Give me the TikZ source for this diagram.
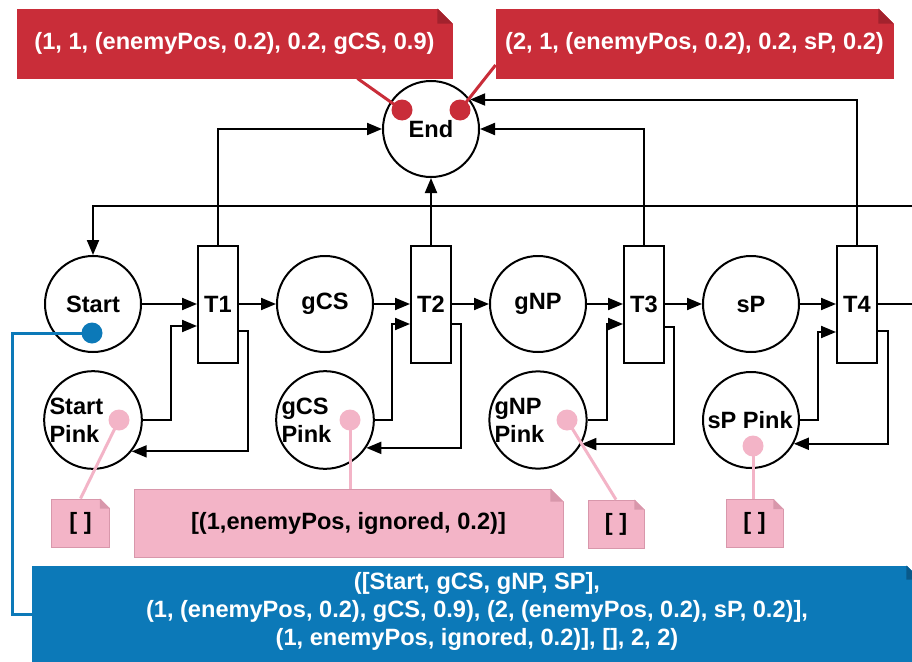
\documentclass[tikz,border=0pt]{standalone}
\usepackage{fontspec}
\setmainfont{Liberation Sans}
\usetikzlibrary{arrows.meta,positioning}
\definecolor{redc}{HTML}{C92D39}
\definecolor{redd}{HTML}{A2222D}
\definecolor{pinkc}{HTML}{F3B4C7}
\definecolor{pinkd}{HTML}{D897AB}
\definecolor{bluec}{HTML}{0C79B8}
\definecolor{blued}{HTML}{09598A}
\newcommand{\nodefont}{\fontsize{23.6}{28}\selectfont\bfseries}
% folded corner of a note
\newcommand{\dogear}[3]{%
  \fill[white] ([xshift=-#3pt,yshift=0.6pt]#1.north east) -- ([xshift=0.6pt,yshift=0.6pt]#1.north east) -- ([xshift=0.6pt,yshift=-#3pt]#1.north east) -- cycle;
  \fill[#2] ([xshift=-#3pt]#1.north east) -- ([xshift=-#3pt,yshift=-#3pt]#1.north east) -- ([yshift=-#3pt]#1.north east) -- cycle;}
\tikzset{
  plc/.style={draw, circle, line width=2pt, minimum size=96pt, inner sep=0pt, font=\nodefont},
  pplc/.style={plc, text width=87pt, align=flush left},
  trn/.style={draw, rectangle, line width=2pt, minimum width=40pt, minimum height=117pt, inner sep=0pt, font=\nodefont},
  arr/.style={-{Triangle[length=15pt,width=12pt]}, line width=2pt},
  nte/.style={rectangle, inner sep=0pt, line width=0.8pt, font=\nodefont},
  dot/.style={circle, inner sep=0pt, minimum size=21pt},
  tie/.style={line width=3pt},
}
\begin{document}
\begin{tikzpicture}[x=1pt,y=-1pt]
  \useasboundingbox (0,0) rectangle (912,661);
  \clip (0,0) rectangle (912,661);
  % places
  \node[plc] (start) at (93,304) {Start};
  \node[plc] (gcs) at (325,304) {gCS};
  \node[plc] (gnp) at (538,304) {gNP};
  \node[plc] (sp) at (751,304) {sP};
  \node[plc] (end) at (431,129) {End};
  \node[pplc] (startp) at (93,420) {Start\\Pink};
  \node[pplc] (gcsp) at (325,420) {gCS\\Pink};
  \node[pplc] (gnpp) at (538,420) {gNP\\Pink};
  \node[pplc] (spp) at (751,420) {sP Pink};
  % transitions
  \foreach \n/\x in {1/218,2/431,3/644,4/857}
    \node[trn] (t\n) at (\x,304) {T\n};
  % main flow
  \draw[arr] (start) -- (t1);
  \draw[arr] (t1) -- (gcs);
  \draw[arr] (gcs) -- (t2);
  \draw[arr] (t2) -- (gnp);
  \draw[arr] (gnp) -- (t3);
  \draw[arr] (t3) -- (sp);
  \draw[arr] (sp) -- (t4);
  % pink places
  \draw[arr] (startp.east) -- ++(28,0) |- ([yshift=-22pt]t1.west);
  \draw[arr] ([yshift=-27pt]t1.east) -- ++(9,0) |- (startp.-39);
  \draw[arr] (gcsp.east) -- ++(17,0) |- ([yshift=-20pt]t2.west);
  \draw[arr] ([yshift=-20pt]t2.east) -- ++(9,0) |- (gcsp.-34);
  \draw[arr] (gnpp.east) -- ++(19,0) |- ([yshift=-20pt]t3.west);
  \draw[arr] ([yshift=-23pt]t3.east) -- ++(9,0) |- (gnpp.-29);
  \draw[arr] (spp.east) -- ++(18,0) |- ([yshift=-28pt]t4.west);
  \draw[arr] ([yshift=-27pt]t4.east) -- ++(10,0) |- (spp.-29);
  % to End and back to Start
  \draw[arr] (t1.north) |- (end.west);
  \draw[arr] (t2) -- (end);
  \draw[arr] (t3.north) |- (end.east);
  \draw[arr] (t4.north) |- (end.37);
  \draw[arr] (t4.east) -- ++(60,0) |- ([yshift=49pt]start.north) -- (start.north);
  % notes
  \node[nte, fill=redc, draw=redc, text=white, minimum width=435pt, minimum height=69pt] (fire1) at (234.5,43.5) {(1, 1, (enemyPos, 0.2), 0.2, gCS, 0.9)};
  \node[nte, fill=redc, draw=redc, text=white, minimum width=397pt, minimum height=69pt] (fire2) at (694.5,43.5) {(2, 1, (enemyPos, 0.2), 0.2, sP, 0.2)};
  \node[nte, fill=pinkc, draw=pinkd, minimum width=58pt, minimum height=48pt] (tok1) at (80.5,523) {[ ]};
  \node[nte, fill=pinkc, draw=pinkd, minimum width=429pt, minimum height=68pt] (tok2) at (348.5,523) {[(1,enemyPos, ignored, 0.2)]};
  \node[nte, fill=pinkc, draw=pinkd, minimum width=56pt, minimum height=48pt] (tok3) at (616,524) {[ ]};
  \node[nte, fill=pinkc, draw=pinkd, minimum width=57pt, minimum height=48pt] (tok4) at (754.5,523.5) {[ ]};
  \node[nte, fill=bluec, draw=bluec, minimum width=888pt, minimum height=114pt] (trace) at (476,623) {};
  \node[font=\nodefont, text=white, align=center, inner sep=0pt] (tracetxt) at (477,611)
    {([Start, gCS, gNP, SP],\\(1, (enemyPos, 0.2), gCS, 0.9), (2, (enemyPos, 0.2), sP, 0.2)],\\(1, enemyPos, ignored, 0.2)], [], 2, 2)};
  \dogear{fire1}{redd}{15}
  \dogear{fire2}{redd}{15}
  \dogear{tok1}{pinkd}{10}
  \dogear{tok2}{pinkd}{13}
  \dogear{tok3}{pinkd}{10}
  \dogear{tok4}{pinkd}{10}
  \dogear{trace}{blued}{14}
  % markers
  \node[dot, fill=redc] (enddotA) at (402,110) {};
  \node[dot, fill=redc] (enddotB) at (460,110) {};
  \draw[tie, redc] (enddotA.center) -- ([xshift=-95pt]fire1.south east);
  \draw[tie, redc] (enddotB.center) -- ([yshift=-21.5pt]fire2.west);
  \node[dot, fill=pinkc] (stpdot) at (119,420) {};
  \node[dot, fill=pinkc] (gcsdot) at (350,420) {};
  \node[dot, fill=pinkc] (gnpdot) at (567,420) {};
  \node[dot, fill=pinkc] (spdot) at (753,446) {};
  \draw[tie, pinkc] (stpdot.center) -- (tok1.north);
  \draw[tie, pinkc] (gcsdot.center) -- (gcsdot |- tok2.north);
  \draw[tie, pinkc] (gnpdot.center) -- (tok3.north);
  \draw[tie, pinkc] (spdot.center) -- (spdot |- tok4.north);
  \node[dot, fill=bluec] (startdot) at (92,333) {};
  \draw[tie, bluec] (startdot.center) -- ++(-80,0) |- ([yshift=9pt]trace.west);
\end{tikzpicture}
\end{document}
